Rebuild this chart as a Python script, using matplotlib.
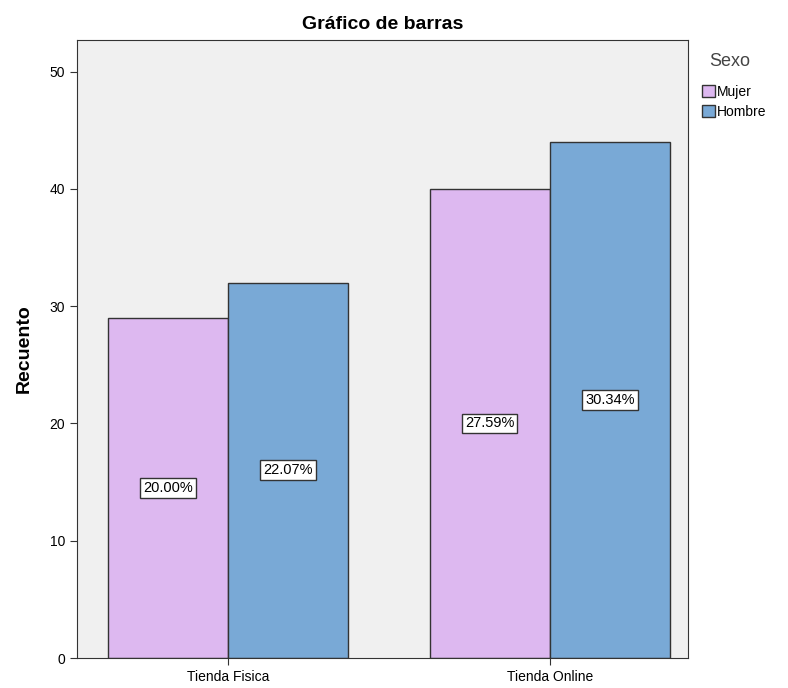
import matplotlib.pyplot as plt
import numpy as np

plt.rcParams['font.family'] = ['Liberation Sans', 'DejaVu Sans']

# Datos del gráfico
categorias = ['Tienda Fisica', 'Tienda Online']
mujer = [29, 40]
hombre = [32, 44]
total = sum(mujer) + sum(hombre)

col_mujer = '#DDB8F0'
col_hombre = '#79A9D6'

fig = plt.figure(figsize=(7.88, 6.88), dpi=100)
ax = fig.add_axes([0.0977, 0.0436, 0.7754, 0.8983])
ax.set_facecolor('#F0F0F0')

x = np.arange(len(categorias))
w = 0.373
b1 = ax.bar(x - w / 2, mujer, w, color=col_mujer, edgecolor='#333333', linewidth=1, label='Mujer')
b2 = ax.bar(x + w / 2, hombre, w, color=col_hombre, edgecolor='#333333', linewidth=1, label='Hombre')

# etiquetas de porcentaje en el centro de cada barra
for bars, vals in [(b1, mujer), (b2, hombre)]:
    for rect, v in zip(bars, vals):
        ax.text(rect.get_x() + rect.get_width() / 2, v / 2, f'{v / total * 100:.2f}%',
                ha='center', va='center', fontsize=10.5,
                bbox=dict(boxstyle='square,pad=0.2', fc='white', ec='#333333', lw=1))

ax.set_xlim(-0.469, 1.429)
ax.set_ylim(0, 52.7)
ax.set_yticks([0, 10, 20, 30, 40, 50])
ax.set_xticks(x)
ax.set_xticklabels(categorias)
ax.tick_params(axis='both', labelsize=10, color='#333333', length=5)
for s in ax.spines.values():
    s.set_color('#333333')

ax.set_ylabel('Recuento', fontsize=14, fontweight='bold', labelpad=12)
ax.set_title('Gráfico de barras', fontsize=14, fontweight='bold', pad=8)

# leyenda: título aparte, como en el original
fig.text(730 / 788, 1 - 62 / 688, 'Sexo', ha='center', va='center',
         fontsize=13, color='#444444')
ax.legend(loc='upper left', bbox_to_anchor=(702 / 788, 1 - 85 / 688),
          bbox_transform=fig.transFigure, frameon=False, fontsize=10,
          handlelength=0.9, handleheight=0.9, handletextpad=0.2,
          labelspacing=0.4, borderaxespad=0, borderpad=0)

fig.savefig('out.png', dpi=100)
